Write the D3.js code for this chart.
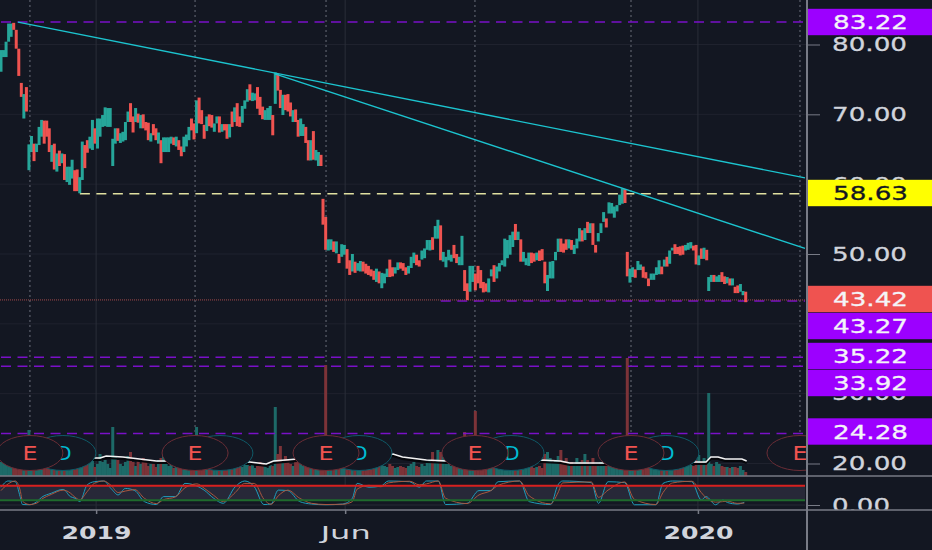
<!DOCTYPE html>
<html>
<head>
<meta charset="utf-8">
<script src="https://cdn.jsdelivr.net/npm/d3@7"></script>
<style>
html, body { margin: 0; padding: 0; background: #131722; overflow: hidden; }
svg { display: block; font-family: "DejaVu Sans", sans-serif; }
</style>
</head>
<body>
<svg id="chart" width="932" height="550"></svg>
<script>
// candle bodies, in price
const opens = [
76.1,78.2,78.2,80.4,81.1,83.1,82.1,79.4,74.5,69.4,73.9,62.0,64.6,65.8,64.6,65.6,66.8,69.1,69.1,68.0,
63.2,65.8,61.8,64.8,63.0,64.3,60.3,59.9,60.8,62.0,62.1,58.7,60.6,65.6,66.3,65.1,64.9,68.0,65.1,66.8,
68.2,68.3,68.2,68.2,62.6,65.8,68.0,65.9,66.1,66.3,68.9,71.6,69.7,68.9,70.1,68.0,70.0,68.9,68.8,66.1,
68.6,68.0,65.8,66.3,64.6,64.6,64.6,65.8,66.7,65.4,66.3,65.4,64.6,65.4,66.3,69.4,68.7,67.3,72.4,70.6,
68.5,67.6,70.0,69.9,67.5,68.7,69.7,67.5,68.6,68.6,66.7,70.4,68.9,71.6,69.7,68.8,70.8,71.8,74.3,71.9,
72.0,73.9,72.5,71.1,69.2,69.2,69.2,69.9,71.5,75.8,73.5,69.9,72.8,72.9,71.7,68.9,70.7,69.2,66.9,66.9,
68.2,66.3,63.4,67.6,63.4,62.6,64.2,57.9,55.3,50.5,50.6,51.8,50.1,50.0,49.6,49.9,50.7,49.1,47.5,48.9,
47.6,47.5,48.9,48.6,48.3,47.8,47.6,46.0,47.5,45.1,45.8,46.7,49.2,48.1,47.2,47.7,48.8,48.7,48.1,47.2,
48.0,48.7,49.9,49.1,49.2,49.4,50.6,50.5,52.4,52.2,52.2,54.1,48.9,48.1,49.1,48.9,51.3,50.0,48.4,48.4,
47.7,45.8,44.6,46.0,47.2,48.3,47.7,46.0,45.8,44.5,46.8,48.4,46.5,47.5,48.4,48.2,49.4,49.9,51.0,54.3,
52.0,52.1,48.9,48.4,48.3,50.2,50.1,49.1,50.5,50.7,48.9,44.7,46.5,46.5,49.1,50.3,52.2,51.5,52.1,50.8,
52.0,50.0,50.8,51.8,53.4,52.0,54.6,53.0,54.4,51.3,51.8,53.0,54.6,55.1,55.8,55.8,55.2,56.1,57.0,57.2,
59.3,50.3,45.9,46.7,47.8,47.7,47.7,48.2,47.4,46.5,46.3,46.3,47.0,47.1,48.2,48.2,49.6,48.6,50.5,51.4,
51.0,51.1,51.2,50.5,50.6,50.8,51.2,51.3,48.4,50.8,49.3,50.6,44.7,46.0,47.0,46.0,46.0,47.4,46.8,45.8,
46.5,45.5,45.3,45.5,44.6,44.1,44.6
];
const closes = [
79.2,79.2,80.4,83.0,83.0,82.1,79.4,75.5,72.5,72.9,70.4,65.7,66.9,63.3,65.8,68.2,69.2,65.8,66.8,64.6,
65.6,62.1,64.4,62.6,64.4,60.6,62.5,62.5,63.5,59.0,59.0,61.0,66.1,62.3,64.5,66.8,69.2,65.8,69.4,69.4,
69.9,71.0,70.9,70.9,66.5,68.0,66.2,67.3,67.5,68.9,70.4,68.9,67.4,70.9,68.8,69.9,68.0,67.7,66.3,67.3,
67.0,66.3,67.4,63.0,66.7,66.7,66.7,66.8,65.6,66.8,64.9,64.0,66.8,67.1,68.2,67.7,66.4,72.0,68.7,68.6,
66.5,69.7,68.3,68.1,68.7,69.7,67.4,68.6,67.7,66.5,68.6,68.2,71.0,68.3,68.2,71.2,72.0,73.6,72.0,73.1,
73.0,70.8,69.9,69.3,70.6,70.9,71.2,67.0,76.0,73.4,70.9,72.8,70.6,70.4,69.7,70.6,68.9,66.8,69.4,68.6,
65.9,63.4,66.3,63.5,64.9,64.6,62.6,54.2,50.6,52.1,52.1,50.3,51.8,48.7,51.4,51.3,47.9,47.0,50.0,47.3,
48.7,49.0,47.5,47.2,47.0,46.8,46.3,47.9,45.8,47.3,47.2,47.9,46.7,46.8,48.1,48.8,47.9,47.6,47.0,48.3,
49.6,50.2,48.4,48.2,50.5,50.8,52.0,52.0,50.6,54.0,54.9,49.1,50.3,49.6,50.6,49.9,49.4,48.7,49.6,52.6,
44.7,43.4,48.3,48.3,44.8,45.8,45.1,44.5,44.6,46.5,47.8,46.0,48.2,48.7,49.1,52.2,52.0,52.7,53.2,52.0,
53.2,48.9,50.3,49.4,50.2,48.7,48.9,50.2,49.0,49.1,45.8,47.0,48.9,49.0,50.3,52.2,50.3,50.2,50.6,52.1,
50.6,51.3,52.2,53.7,51.8,53.7,53.0,54.4,51.3,50.2,53.0,54.4,56.0,53.8,57.4,57.3,56.8,57.0,58.5,59.4,
57.3,46.8,47.9,48.1,46.6,49.0,48.5,46.6,46.5,45.4,47.2,47.2,48.1,49.1,47.1,49.2,48.2,50.5,50.9,50.0,
50.0,49.8,49.9,51.3,51.6,51.7,50.5,48.5,49.8,49.3,50.9,49.1,46.7,47.0,46.0,46.8,47.0,46.0,45.7,46.7,
45.5,46.5,44.4,44.4,45.7,44.7,43.1
];
const volumes = [
14,18,12,16,20,24,30,18,14,12,10,46,22,16,10,14,18,12,20,10,
12,18,10,14,9,12,16,10,14,8,10,20,14,10,12,18,24,9,12,22,
14,16,12,8,49,20,16,12,10,14,20,24,14,10,16,12,18,14,10,12,
12,9,16,18,22,14,10,12,8,10,14,8,12,10,16,12,10,49,18,14,
12,10,14,10,8,10,12,9,8,10,10,14,12,16,12,9,14,18,10,12,
8,10,14,12,10,8,12,10,69,22,30,14,20,16,12,10,18,14,12,10,
16,18,12,14,10,9,12,30,111,24,16,14,12,18,14,10,16,12,14,10,
8,10,9,12,10,8,9,10,12,14,10,9,12,10,8,9,10,9,8,10,
12,14,10,9,12,10,14,16,24,14,26,24,20,12,16,10,14,12,18,22,
44,20,16,24,65,18,14,12,10,9,12,14,10,9,8,14,18,12,10,16,
9,14,12,8,10,12,8,9,10,8,22,24,18,14,16,20,26,14,18,12,
14,12,18,14,16,22,16,12,18,10,12,14,18,12,10,16,12,14,18,20,
36,118,30,18,14,16,12,14,10,9,10,12,9,8,10,9,12,10,14,12,
10,12,14,9,10,12,10,16,21,14,18,14,83,12,10,14,12,10,9,9,
8,9,9,8,10,6,4
];

// the candle row has three breaks, each keeps its own bar step
const barAnchors = [0, 126, 127, 240, 241, 271, 272, 286];
const barPixels = [1, 321, 323, 625, 627.3, 706.7, 708.7, 745.7];

// volume average, session number then value
const maBars = [0,39,41.5,44,51,65,71,104,111,114,124,138,150,164,168,178,187,209,226,234,238,252,272,290,295,297,300,303,310,312];
const maValues = [17,18,18,20,19,15,15,14,12,15,17,18,20,22,19,16,15,15,16,15,13,13,14,14,14,19,19,17,17,15];

// stochastic, session number then %K and %D
const stochBars = [0,3,6,8,9,12,15,17,21,26,29,31,33,36,39,43,46,49,52,56,60,65,68,73,77,82,85,89,93,98,102,106,110,113,116,120,125,130,136,143,147,149,154,159,162,171,175,178,183,186,195,200,205,208,217,221,230,233,235,247,250,254,261,265,274,277,281,289,293,295,299,302,304,308,311];
const stochK = [74,100,97,35,2,1,14,32,49,65,35,28,14,83,97,100,69,42,69,60,14,2,35,35,90,79,62,28,7,76,100,76,2,4,62,60,14,4,1,4,28,90,74,79,100,97,74,100,100,2,7,60,60,97,100,14,2,83,100,93,7,97,93,1,1,90,100,97,21,35,1,21,10,4,11];
const stochD = [60,88,100,62,16,2,8,24,44,62,50,32,22,55,90,100,82,52,58,64,28,6,22,34,72,88,70,40,14,52,90,90,24,3,38,62,28,7,2,3,14,66,82,76,92,99,84,88,100,28,6,42,60,82,100,38,5,50,92,96,32,62,96,24,2,52,92,99,52,30,12,14,16,7,8];

const priceTicks = [80, 70, 60, 50, 40, 30, 20];
const priceFormat = d3.format('.2f');
const levelValues = [83.22, 43.27, 35.22, 33.92, 24.28];
const levelStarts = [0, 184, 0, 0, 0];
const supportValue = 58.63;
const lastValue = 43.42;
// price labels that the chart pushed apart
const tagValues = [83.22, 58.63, 43.42, 43.27, 35.22, 33.92, 24.28];
const tagCentres = [22, 193, 299, 326, 356, 383, 431.5];
const tagFills = ['#9c00ff', '#ffff00', '#ef5350', '#9c00ff', '#9c00ff', '#9c00ff', '#9c00ff'];
const tagInks = ['#f4f4f8', '#131722', '#f4f4f8', '#f4f4f8', '#f4f4f8', '#f4f4f8', '#f4f4f8'];

const dateBars = [39.8, 144, 291.6];
const dateLabels = ['2019', 'Jun', '2020'];
const earningsBars = [12.1, 81.2, 136, 198.3, 263.6, 334.3];
const dividendBars = [25.9, 91.6, 149.8, 213.4, 278.2];
// start and end of each trend line: session, price
const trendLines = [
    [[7.1, 83.2], [336.4, 60.9]],
    [[114.6, 75.8], [336.4, 50.8]]
];

const paneRight = 807;
const upColor = '#26a69a';
const downColor = '#ef5350';

const barX = d3.scaleLinear().domain(barAnchors).range(barPixels);
const dayX = d3.scaleLinear().domain([0, 100]).range([1, 240]);
const priceY = d3.scaleLinear().domain([80, 20]).range([44.5, 463.5]);
const volumeY = d3.scaleLinear().domain([0, 120]).range([476, 356]);
const stochY = d3.scaleLinear().domain([0, 100]).range([505, 481]);

const svg = d3.select('#chart');
svg.append('rect').attr('width', 932).attr('height', 550).attr('fill', '#131722');

const defs = svg.append('defs');
defs.append('clipPath').attr('id', 'pane-clip').append('rect')
    .attr('width', paneRight).attr('height', 510);
defs.append('clipPath').attr('id', 'scale-clip').append('rect')
    .attr('x', paneRight).attr('width', 932 - paneRight).attr('height', 510);

const pane = svg.append('g').attr('clip-path', 'url(#pane-clip)');

// grid
pane.append('g').selectAll('line')
    .data(priceTicks)
    .enter().append('line')
    .attr('x1', 0).attr('x2', paneRight)
    .attr('y1', d => priceY(d)).attr('y2', d => priceY(d))
    .attr('stroke', '#1f222e').attr('stroke-width', 1);

pane.append('g').selectAll('line')
    .data(dateBars)
    .enter().append('line')
    .attr('x1', d => dayX(d)).attr('x2', d => dayX(d))
    .attr('y1', 0).attr('y2', 510)
    .attr('stroke', '#2a2e39').attr('stroke-width', 1);

pane.append('g').selectAll('line')
    .data(earningsBars)
    .enter().append('line')
    .attr('x1', d => dayX(d)).attr('x2', d => dayX(d))
    .attr('y1', 0).attr('y2', 440)
    .attr('stroke', '#565a66').attr('stroke-width', 1.3)
    .attr('stroke-dasharray', '2 3');

// volume
pane.append('g').selectAll('rect')
    .data(volumes)
    .enter().append('rect')
    .attr('x', (d, i) => barX(i) - 1.5)
    .attr('width', 3)
    .attr('y', d => volumeY(d))
    .attr('height', d => volumeY(0) - volumeY(d))
    .attr('fill', (d, i) => closes[i] >= opens[i] ? '#1d6a68' : '#7c3338');

const maLine = d3.line()
    .x((d, i) => dayX(maBars[i]))
    .y(d => volumeY(d));
pane.append('path').datum(maValues)
    .attr('d', maLine)
    .attr('transform', 'translate(0,2)')
    .attr('fill', 'none').attr('stroke', '#05060a').attr('stroke-width', 2);
pane.append('path').datum(maValues)
    .attr('d', maLine)
    .attr('fill', 'none').attr('stroke', '#f2f2f2').attr('stroke-width', 1.5);

// horizontal levels
pane.append('g').selectAll('line')
    .data(levelValues)
    .enter().append('line')
    .attr('x1', (d, i) => dayX(levelStarts[i])).attr('x2', 805)
    .attr('y1', d => priceY(d)).attr('y2', d => priceY(d))
    .attr('stroke', '#7a10c8').attr('stroke-width', 1.5)
    .attr('stroke-dasharray', '10 6.5');

pane.append('line')
    .attr('x1', dayX(33)).attr('x2', 805)
    .attr('y1', priceY(supportValue)).attr('y2', priceY(supportValue))
    .attr('stroke', '#e0e0a0').attr('stroke-width', 1.3)
    .attr('stroke-dasharray', '10 6.5');

pane.append('line')
    .attr('x1', 0).attr('x2', paneRight)
    .attr('y1', priceY(lastValue)).attr('y2', priceY(lastValue))
    .attr('stroke', '#a34a4a').attr('stroke-width', 1)
    .attr('stroke-dasharray', '1 1');

// candles
pane.append('g').selectAll('rect')
    .data(closes)
    .enter().append('rect')
    .attr('x', (d, i) => barX(i) - 1.5)
    .attr('width', 3)
    .attr('y', (d, i) => priceY(Math.max(d, opens[i])))
    .attr('height', (d, i) => Math.abs(priceY(d) - priceY(opens[i])))
    .attr('fill', (d, i) => d >= opens[i] ? upColor : downColor);

// trend lines
pane.append('g').selectAll('line')
    .data(trendLines)
    .enter().append('line')
    .attr('x1', d => dayX(d[0][0])).attr('y1', d => priceY(d[0][1]))
    .attr('x2', d => dayX(d[1][0])).attr('y2', d => priceY(d[1][1]))
    .attr('stroke', '#1cc4cf').attr('stroke-width', 1.4);

// event bubbles, dividends lie under earnings
const dividends = pane.append('g').selectAll('g')
    .data(dividendBars)
    .enter().append('g')
    .attr('transform', d => `translate(${dayX(d)},453)`);
dividends.append('ellipse')
    .attr('rx', 33).attr('ry', 17.5)
    .attr('fill', '#131722').attr('stroke', '#0f5a68').attr('stroke-width', 1);
dividends.append('text')
    .attr('x', 1).attr('y', 7)
    .attr('text-anchor', 'middle')
    .attr('font-size', 20)
    .attr('textLength', 15).attr('lengthAdjust', 'spacingAndGlyphs')
    .attr('fill', '#00bcd4')
    .text('D');

const earnings = pane.append('g').selectAll('g')
    .data(earningsBars)
    .enter().append('g')
    .attr('transform', d => `translate(${dayX(d)},453)`);
earnings.append('ellipse')
    .attr('rx', 33).attr('ry', 17.5)
    .attr('fill', '#131722').attr('stroke', '#6b2d36').attr('stroke-width', 1);
earnings.append('text')
    .attr('y', 7)
    .attr('text-anchor', 'middle')
    .attr('font-size', 20)
    .attr('textLength', 15).attr('lengthAdjust', 'spacingAndGlyphs')
    .attr('fill', '#ef5350')
    .text('E');

// oscillator pane
pane.append('rect')
    .attr('x', 0).attr('width', 805)
    .attr('y', stochY(80)).attr('height', stochY(20) - stochY(80))
    .attr('fill', '#272838');
pane.append('line')
    .attr('x1', 0).attr('x2', 805)
    .attr('y1', stochY(0)).attr('y2', stochY(0))
    .attr('stroke', '#262a35').attr('stroke-width', 1);

const stochLine = d3.line()
    .x((d, i) => dayX(stochBars[i]))
    .y(d => stochY(d))
    .curve(d3.curveMonotoneX);
pane.append('path').datum(stochK)
    .attr('d', stochLine)
    .attr('fill', 'none').attr('stroke', '#1f9dbb').attr('stroke-width', 1);
pane.append('path').datum(stochD)
    .attr('d', stochLine)
    .attr('fill', 'none').attr('stroke', '#a8573f').attr('stroke-width', 1);

pane.append('line')
    .attr('x1', 0).attr('x2', 805)
    .attr('y1', stochY(80)).attr('y2', stochY(80))
    .attr('stroke', '#d8201f').attr('stroke-width', 2);
pane.append('line')
    .attr('x1', 0).attr('x2', 805)
    .attr('y1', stochY(20)).attr('y2', stochY(20))
    .attr('stroke', '#1e6a2c').attr('stroke-width', 2);

// price scale
const scaleGroup = svg.append('g').attr('clip-path', 'url(#scale-clip)');
const priceAxis = scaleGroup.append('g')
    .attr('transform', `translate(${paneRight},0)`)
    .call(d3.axisRight(priceY).tickValues(priceTicks).tickFormat(priceFormat).tickSize(13).tickPadding(12));
const stochAxis = scaleGroup.append('g')
    .attr('transform', `translate(${paneRight},0)`)
    .call(d3.axisRight(stochY).tickValues([0]).tickFormat(priceFormat).tickSize(13).tickPadding(12));
[priceAxis, stochAxis].forEach(axis => {
    axis.select('.domain').remove();
    axis.selectAll('line').attr('stroke', '#787b86');
    axis.selectAll('text')
        .attr('font-size', 19)
        .attr('font-family', '"DejaVu Sans", sans-serif')
        .attr('lengthAdjust', 'spacingAndGlyphs')
        .attr('fill', '#d1d4dc')
        .attr('stroke', '#d1d4dc').attr('stroke-width', 0.3);
});
priceAxis.selectAll('text').attr('textLength', 75);
stochAxis.selectAll('text').attr('textLength', 58);

const tags = svg.append('g').selectAll('g')
    .data(tagValues)
    .enter().append('g')
    .attr('transform', (d, i) => `translate(${paneRight},${tagCentres[i]})`);
tags.append('rect')
    .attr('x', 0).attr('y', -13.2)
    .attr('width', 932 - paneRight).attr('height', 26.4)
    .attr('fill', (d, i) => tagFills[i]);
tags.append('text')
    .attr('x', 26).attr('y', 7)
    .attr('font-size', 19)
    .attr('textLength', 75).attr('lengthAdjust', 'spacingAndGlyphs')
    .attr('fill', (d, i) => tagInks[i])
    .attr('stroke', (d, i) => tagInks[i]).attr('stroke-width', 0.3)
    .text(d => priceFormat(d));

// pane frame lines
svg.append('line')
    .attr('x1', 0).attr('x2', 932).attr('y1', 476).attr('y2', 476)
    .attr('stroke', '#787b86').attr('stroke-width', 1.5);
svg.append('line')
    .attr('x1', 0).attr('x2', 932).attr('y1', 510).attr('y2', 510)
    .attr('stroke', '#787b86').attr('stroke-width', 1.5);
svg.append('line')
    .attr('x1', paneRight).attr('x2', paneRight).attr('y1', 0).attr('y2', 550)
    .attr('stroke', '#787b86').attr('stroke-width', 2);

// date axis
const dateAxis = svg.append('g')
    .attr('transform', 'translate(0,510)')
    .call(d3.axisBottom(dayX).tickValues(dateBars).tickFormat((d, i) => dateLabels[i]).tickSize(4));
dateAxis.select('.domain').remove();
dateAxis.selectAll('line').attr('stroke', '#787b86').attr('stroke-width', 1.5);
dateAxis.selectAll('text')
    .attr('y', 16)
    .attr('font-size', 18)
    .attr('font-family', '"DejaVu Sans", sans-serif')
    .attr('font-weight', (d, i) => i === 1 ? 'normal' : 'bold')
    .attr('textLength', (d, i) => i === 1 ? 50 : 70)
    .attr('lengthAdjust', 'spacingAndGlyphs')
    .attr('fill', '#d1d4dc');
</script>
</body>
</html>
